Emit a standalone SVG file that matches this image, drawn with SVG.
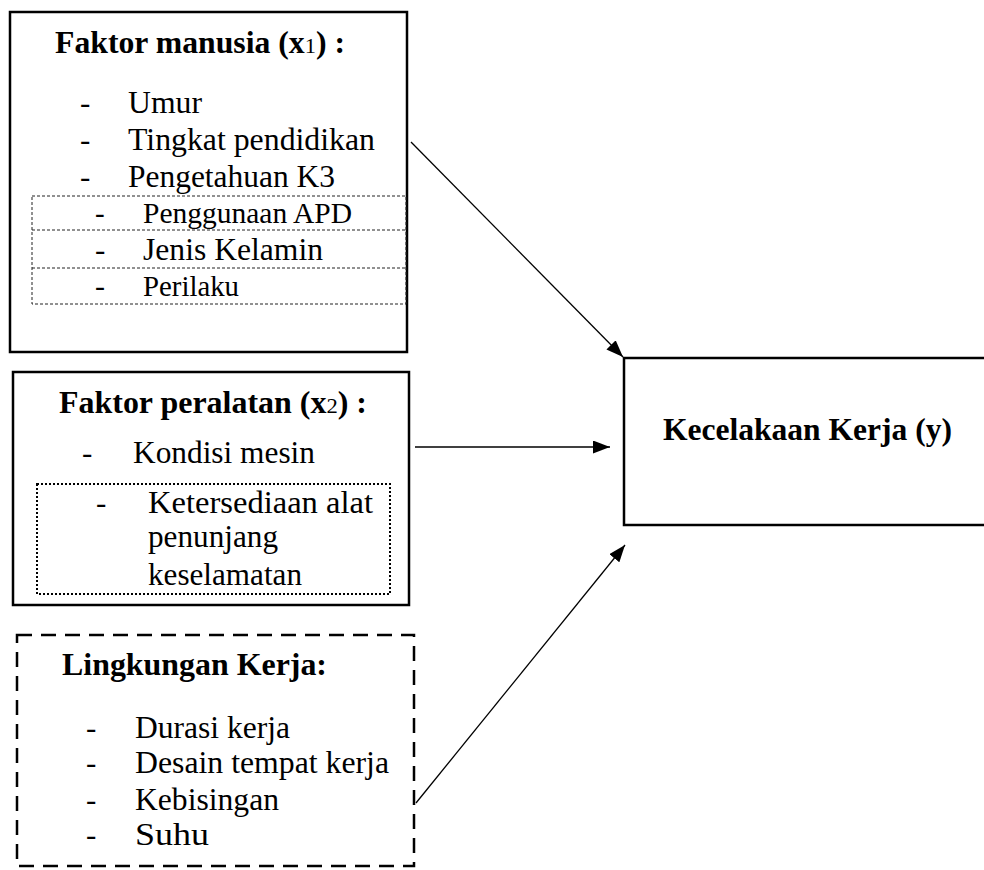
<svg xmlns="http://www.w3.org/2000/svg" width="984" height="870" viewBox="0 0 984 870">
<defs>
<style>
.box{fill:#fff;stroke:#000;stroke-width:2.5}
.dash{fill:none;stroke:#000;stroke-width:2.5;stroke-dasharray:15 9}
.thin{fill:none;stroke:#222;stroke-width:1;stroke-dasharray:3 2}
.dot{fill:none;stroke:#000;stroke-width:2;stroke-dasharray:2 2}
.t{font-family:"Liberation Serif","Times New Roman",serif;fill:#000}
.b{font-weight:bold}
.sub{font-weight:normal;font-size:22px}
.conn{stroke:#000;stroke-width:1.3;fill:none}
</style>
<marker id="ah" markerUnits="userSpaceOnUse" markerWidth="18" markerHeight="14" refX="17" refY="6.5" orient="auto">
<path d="M0,0 L17,6.5 L0,13 z" fill="#000"/>
</marker>
</defs>
<rect width="984" height="870" fill="#fff"/>

<g id="faktor-manusia">
<rect class="box" x="10" y="12" width="397" height="340"/>
<text class="t b" x="55" y="53" font-size="31" textLength="290" lengthAdjust="spacingAndGlyphs">Faktor manusia (x<tspan class="sub">1</tspan>) :</text>
<text class="t" x="80" y="113" font-size="31">-</text>
<text class="t" x="128" y="113" font-size="31" textLength="74" lengthAdjust="spacingAndGlyphs">Umur</text>
<text class="t" x="80" y="150" font-size="31">-</text>
<text class="t" x="128" y="150" font-size="31" textLength="247" lengthAdjust="spacingAndGlyphs">Tingkat pendidikan</text>
<text class="t" x="80" y="187" font-size="31">-</text>
<text class="t" x="128" y="187" font-size="31" textLength="207" lengthAdjust="spacingAndGlyphs">Pengetahuan K3</text>
<rect class="thin" x="32" y="196" width="374" height="108"/>
<line class="thin" x1="32" y1="230" x2="406" y2="230"/>
<line class="thin" x1="32" y1="268" x2="406" y2="268"/>
<text class="t" x="95" y="223" font-size="29">-</text>
<text class="t" x="143" y="223" font-size="29" textLength="209" lengthAdjust="spacingAndGlyphs">Penggunaan APD</text>
<text class="t" x="95" y="260" font-size="31">-</text>
<text class="t" x="143" y="260" font-size="31" textLength="180" lengthAdjust="spacingAndGlyphs">Jenis Kelamin</text>
<text class="t" x="95" y="296" font-size="30">-</text>
<text class="t" x="143" y="296" font-size="30" textLength="96" lengthAdjust="spacingAndGlyphs">Perilaku</text>
</g>

<g id="faktor-peralatan">
<rect class="box" x="13" y="372" width="396" height="233"/>
<text class="t b" x="59" y="413" font-size="31" textLength="308" lengthAdjust="spacingAndGlyphs">Faktor peralatan (x<tspan class="sub">2</tspan>) :</text>
<text class="t" x="82" y="463" font-size="31">-</text>
<text class="t" x="133" y="463" font-size="31" textLength="182" lengthAdjust="spacingAndGlyphs">Kondisi mesin</text>
<rect class="dot" x="37" y="484" width="353" height="110"/>
<text class="t" x="96" y="513" font-size="31">-</text>
<text class="t" x="148" y="513" font-size="31" textLength="225" lengthAdjust="spacingAndGlyphs">Ketersediaan alat</text>
<text class="t" x="148" y="547" font-size="31" textLength="130" lengthAdjust="spacingAndGlyphs">penunjang</text>
<text class="t" x="148" y="585" font-size="31" textLength="154" lengthAdjust="spacingAndGlyphs">keselamatan</text>
</g>

<g id="lingkungan-kerja">
<rect class="dash" x="17" y="635" width="397" height="231"/>
<text class="t b" x="62" y="675" font-size="31" textLength="265" lengthAdjust="spacingAndGlyphs">Lingkungan Kerja:</text>
<text class="t" x="86" y="738" font-size="31">-</text>
<text class="t" x="135" y="738" font-size="31" textLength="155" lengthAdjust="spacingAndGlyphs">Durasi kerja</text>
<text class="t" x="86" y="773" font-size="31">-</text>
<text class="t" x="135" y="773" font-size="31" textLength="254" lengthAdjust="spacingAndGlyphs">Desain tempat kerja</text>
<text class="t" x="86" y="810" font-size="31">-</text>
<text class="t" x="135" y="810" font-size="31" textLength="144" lengthAdjust="spacingAndGlyphs">Kebisingan</text>
<text class="t" x="86" y="845" font-size="31">-</text>
<text class="t" x="135" y="845" font-size="31" textLength="74" lengthAdjust="spacingAndGlyphs">Suhu</text>
</g>

<g id="kecelakaan-kerja">
<rect class="box" x="624" y="358" width="372" height="167"/>
<text class="t b" x="663" y="440" font-size="31" textLength="289" lengthAdjust="spacingAndGlyphs">Kecelakaan Kerja (y)</text>
</g>

<g id="connectors">
<line class="conn" x1="411" y1="142" x2="623" y2="357" marker-end="url(#ah)"/>
<line class="conn" x1="415" y1="447" x2="610" y2="447" marker-end="url(#ah)"/>
<line class="conn" x1="416" y1="803" x2="625" y2="545" marker-end="url(#ah)"/>
</g>
</svg>
